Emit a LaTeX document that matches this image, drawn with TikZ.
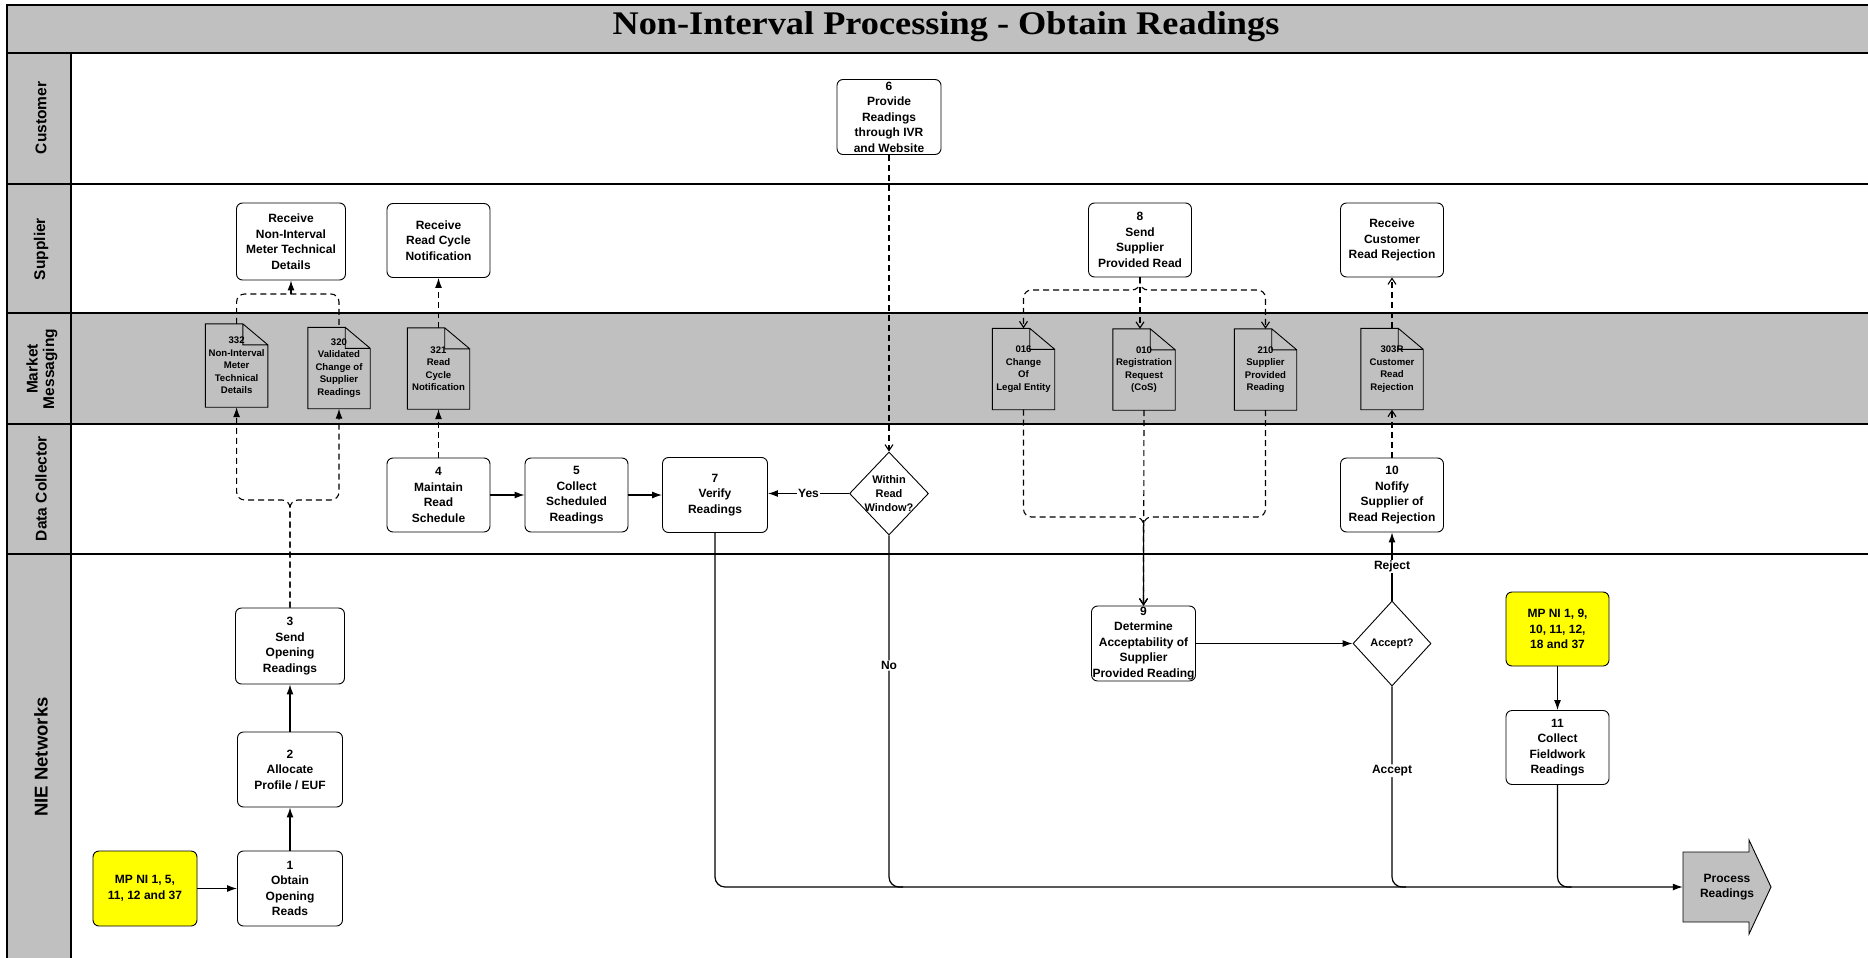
\documentclass[tikz,border=0pt]{standalone}
\usepackage{fontspec}
\setmainfont{Liberation Sans}
\newfontfamily\titlefont{Liberation Serif}
\usetikzlibrary{shapes,arrows.meta,calc}
\definecolor{lanegray}{RGB}{192,192,192}
\definecolor{noteyellow}{RGB}{255,255,0}

\begin{document}
\begin{tikzpicture}[x=1pt,y=-1pt,
	box/.style={draw,line width=0.9pt,rounded corners=6pt,fill=white,align=center,inner sep=1pt,minimum width=103,minimum height=74,font=\bfseries\fontsize{12}{15.5}\selectfont},
	note/.style={box,fill=noteyellow},
	msg/.style={inner sep=1pt,align=center,minimum width=62,minimum height=81,font=\bfseries\fontsize{9.6}{12.5}\selectfont},
	choice/.style={diamond,draw,line width=0.9pt,fill=white,inner sep=0pt,minimum width=79,minimum height=83},
	qtext/.style={align=center,inner sep=0pt,font=\bfseries\fontsize{11}{14.2}\selectfont},
	lane/.style={rotate=90,align=center,font=\bfseries\fontsize{15.5}{16.5}\selectfont},
	flow/.style={line width=1.2pt,-{Latex[length=10pt,width=7pt]}},
	msgline/.style={line width=1.1pt,dash pattern=on 6pt off 4pt},
	msgflow/.style={msgline,-{Latex[length=10pt,width=7pt]}},
	msgopen/.style={msgline,-{Straight Barb[length=6pt,width=8pt]}},
	lbl/.style={fill=white,inner sep=1pt,font=\bfseries\fontsize{12}{14}\selectfont}]
	\useasboundingbox (0,0) rectangle (1868,958);
	\fill[lanegray] (7,5) rectangle (1868,53);
	\fill[lanegray] (7,53) rectangle (71,958);
	\fill[lanegray] (71,313) rectangle (1868,424);
	\foreach \y / \w in {53/2.5,184/2,313/2,424/2,554/1.5} { \draw[line width=\w pt] (7,\y) -- (1868,\y);}
	\draw[line width=1.5pt] (7,958) -- (7,5) -- (1868,5);
	\draw[line width=1.2pt] (71,53) -- (71,958);
	\node[font=\titlefont\bfseries\fontsize{33}{38}\selectfont,anchor=base] (title) at (946,34.5) {\scalebox{1.1}[1]{Non-Interval Processing - Obtain Readings}};
	\node[lane] (lcustomer) at (41,118) {Customer};
	\node[lane] (lsupplier) at (41,249) {Supplier};
	\node[lane] (lmarket) at (42,369) {Market\\Messaging};
	\node[lane] (lcollector) at (41,488.5) {Data Collector};
	\node[lane,font=\bfseries\fontsize{18.5}{20}\selectfont] (lnie) at (41,757) {NIE Networks};

	\node[box,minimum width=104,minimum height=75] (provide) at (889,117) {6\\Provide\\Readings\\through IVR\\and Website};

	\node[box,minimum width=109,minimum height=77] (getnimtd) at (291,241.5) {Receive\\Non-Interval\\Meter Technical\\Details};
	\node[box] (getcycle) at (438.5,240.5) {Receive\\Read Cycle\\Notification};
	\node[box] (sendread) at (1140,240) {8\\Send\\Supplier\\Provided Read};
	\node[box] (getreject) at (1392,240) {Receive\\Customer\\Read Rejection};

	\node[msg,minimum height=83] (m332) at (236.6,365.5) {332\\Non-Interval\\Meter\\Technical\\Details};
	\node[msg] (m320) at (339,368) {320\\Validated\\Change of\\Supplier\\Readings};
	\node[msg] (m321) at (438.5,368.5) {321\\Read\\Cycle\\Notification};
	\node[msg] (m016) at (1023.5,369) {016\\Change\\Of\\Legal Entity};
	\node[msg] (m010) at (1144,369.5) {010\\Registration\\Request\\(CoS)};
	\node[msg] (m210) at (1265.5,369.5) {210\\Supplier\\Provided\\Reading};
	\node[msg] (m303) at (1392,369) {303R\\Customer\\Read\\Rejection};
	\foreach \m in {m332,m320,m321,m016,m010,m210,m303} {
		\draw[line width=0.9pt] (\m.north west) -- ([xshift=-25pt]\m.north east) -- ([yshift=-21pt]\m.north east) -- (\m.south east) -- (\m.south west) -- cycle
			([xshift=-25pt]\m.north east) |- ([yshift=-21pt]\m.north east);
	}

	\node[box] (schedule) at (438.5,495) {4\\Maintain\\Read\\Schedule};
	\node[box] (collect) at (576.5,495) {5\\Collect\\Scheduled\\Readings};
	\node[box,minimum width=105,minimum height=75] (verify) at (715,495) {7\\Verify\\Readings};
	\node[choice] (window) at (889,493.5) {};
	\node[qtext] (windowtxt) at (window) {Within\\Read\\Window?};
	\node[box] (notify) at (1392,495) {10\\Nofify\\Supplier of\\Read Rejection};

	\node[note,minimum width=104,minimum height=75] (mpa) at (145,888.5) {MP NI 1, 5,\\11, 12 and 37};
	\node[box,minimum width=105,minimum height=75] (obtain) at (290,888.5) {1\\Obtain\\Opening\\Reads};
	\node[box,minimum width=105,minimum height=75] (allocate) at (290,769.5) {2\\Allocate\\Profile / EUF};
	\node[box,minimum width=109,minimum height=76] (sendopen) at (290,646) {3\\Send\\Opening\\Readings};
	\node[box] (judge) at (1143.5,643.5) {9\\Determine\\Acceptability of\\Supplier\\Provided Reading};
	\node[choice,minimum width=78,minimum height=85] (accept) at (1392,643.5) {};
	\node[qtext] (accepttxt) at (accept) {Accept?};
	\node[note] (mpb) at (1557.5,629) {MP NI 1, 9,\\10, 11, 12,\\18 and 37};
	\node[box] (fieldwork) at (1557.5,747.5) {11\\Collect\\Fieldwork\\Readings};

	\filldraw[fill=lanegray,line width=0.9pt] (1683,852) -- (1749,852) -- (1749,840) -- (1771,887) -- (1749,934) -- (1749,922) -- (1683,922) -- cycle;
	\node[font=\bfseries\fontsize{12}{15.5}\selectfont,align=center,minimum width=88,inner sep=0pt] (process) at (1727,887) {Process\\Readings};

	\draw[flow] (mpa) -- (obtain);
	\draw[flow] (obtain) -- (allocate);
	\draw[flow] (allocate) -- (sendopen);
	\coordinate (split) at (290,500);
	\draw[msgflow,rounded corners=8pt] (sendopen.north) -- (split) -| (m332.south);
	\draw[msgflow,rounded corners=8pt] (sendopen.north) -- (split) -| (m320.south);
	\coordinate (merge) at (291,294);
	\draw[msgline,rounded corners=8pt] (m332.north) |- (merge) -| (m320.north);
	\draw[msgflow] (merge) -- (getnimtd.south);
	\draw[msgflow] (schedule) -- (m321);
	\draw[msgflow] (m321) -- (getcycle);
	\draw[flow] (schedule) -- (collect);
	\draw[flow] (collect) -- (verify);
	\draw[msgopen] (provide) -- (window);
	\draw[flow] (window.west) -- node[lbl] {Yes} (verify.east |- window.west);
	\draw[flow,rounded corners=10pt] (verify.south) |- (process.west);
	\draw[line width=1.2pt,rounded corners=10pt] (window.south) |- node[lbl,pos=0.185] {No} ($(window.south |- process.west)+(14,0)$);
	\draw[line width=1.2pt,rounded corners=10pt] (accept.south) |- node[lbl,pos=0.21] {Accept} ($(accept.south |- process.west)+(14,0)$);
	\draw[line width=1.2pt,rounded corners=10pt] (fieldwork.south) |- ($(fieldwork.south |- process.west)+(14,0)$);
	\draw[flow] (mpb) -- (fieldwork);
	\draw[flow] (judge) -- (accept);
	\draw[flow] (accept) -- node[lbl] {Reject} (notify);
	\draw[msgopen] (notify) -- (m303);
	\draw[msgopen] (m303) -- (getreject);
	\coordinate (fan) at (1140,290);
	\draw[msgopen,rounded corners=8pt] (sendread.south) -- (fan) -| (m016.north);
	\draw[msgopen,rounded corners=8pt] (sendread.south) -- (fan) -| (m210.north);
	\draw[msgopen] (sendread.south) -- (sendread.south |- m010.north);
	\coordinate (gather) at (1143.5,517);
	\draw[msgopen,rounded corners=8pt] (m016.south) |- (gather) -- (judge.north);
	\draw[msgopen,rounded corners=8pt] (m210.south) |- (gather) -- (judge.north);
	\draw[msgopen] (m010.south) -- (judge.north);
\end{tikzpicture}
\end{document}
